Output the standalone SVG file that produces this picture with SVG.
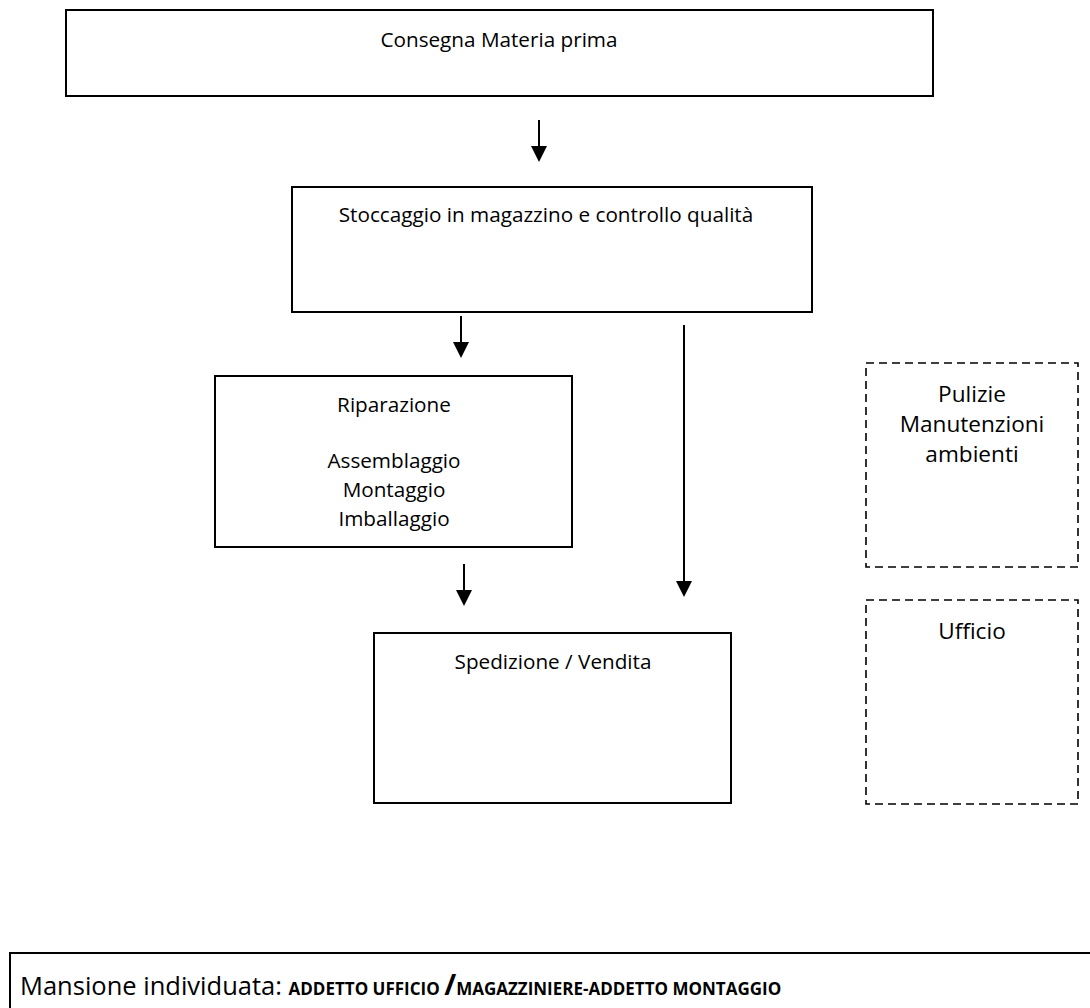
<svg xmlns="http://www.w3.org/2000/svg" width="1090" height="1008" viewBox="0 0 1090 1008">
<style>
.box{fill:#fff;stroke:#000;stroke-width:2}
.dash{fill:#fff;stroke:#000;stroke-width:1.6;stroke-dasharray:8 5}
.t{font-family:"Open Sans","Liberation Sans",sans-serif;font-size:20.7px;fill:#000;text-anchor:middle}
.t2{font-family:"Open Sans","Liberation Sans",sans-serif;font-size:22.6px;fill:#000;text-anchor:middle}
.c{stroke:#000;stroke-width:2;fill:none}
</style>
<defs>
<marker id="ah" markerWidth="8" markerHeight="8" refX="7" refY="4" orient="auto" markerUnits="strokeWidth">
<path d="M0,0 L8,4 L0,8 Z" fill="#000"/>
</marker>
</defs>
<rect width="1090" height="1008" fill="#fff"/>
<g id="n1"><rect class="box" x="66" y="10" width="867" height="86"/><text class="t" x="499" y="47">Consegna Materia prima</text></g>
<g id="n2"><rect class="box" x="292" y="187" width="520" height="125"/><text class="t" x="546" y="222">Stoccaggio in magazzino e controllo qualità</text></g>
<g id="n3"><rect class="box" x="215" y="376" width="357" height="171"/>
<text class="t" x="394" y="412">Riparazione</text>
<text class="t" x="394" y="468">Assemblaggio</text>
<text class="t" x="394" y="497">Montaggio</text>
<text class="t" x="394" y="526">Imballaggio</text></g>
<g id="n4"><rect class="box" x="374" y="633" width="357" height="170"/><text class="t" x="553" y="669">Spedizione / Vendita</text></g>
<g id="n5"><rect class="dash" x="866" y="363" width="212" height="204"/>
<text class="t2" x="972" y="402">Pulizie</text>
<text class="t2" x="972" y="432">Manutenzioni</text>
<text class="t2" x="972" y="462">ambienti</text></g>
<g id="n6"><rect class="dash" x="866" y="600" width="212" height="204"/><text class="t2" x="972" y="639">Ufficio</text></g>
<g id="n7"><rect class="box" x="10" y="953" width="1090" height="70"/>
<text x="20" y="995" font-family="Open Sans,Liberation Sans,sans-serif" font-size="25.5" fill="#000">Mansione individuata: <tspan font-size="17" font-weight="bold">ADDETTO UFFICIO </tspan><tspan font-size="29" font-weight="bold">/</tspan><tspan font-size="17" font-weight="bold">MAGAZZINIERE-ADDETTO MONTAGGIO</tspan></text></g>
<g id="connectors">
<line class="c" x1="539" y1="120" x2="539" y2="160" marker-end="url(#ah)"/>
<line class="c" x1="461" y1="316" x2="461" y2="356" marker-end="url(#ah)"/>
<line class="c" x1="684" y1="325" x2="684" y2="595" marker-end="url(#ah)"/>
<line class="c" x1="464" y1="564" x2="464" y2="604" marker-end="url(#ah)"/>
</g>
</svg>
